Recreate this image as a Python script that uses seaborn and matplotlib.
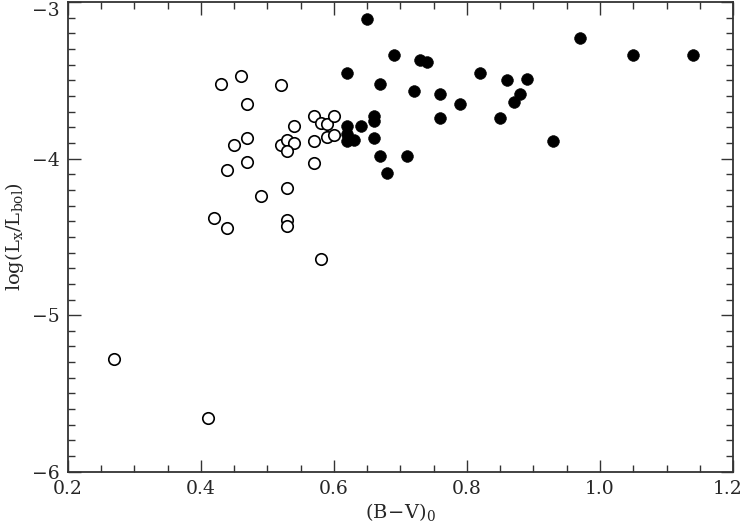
import pandas as pd
import matplotlib
matplotlib.use('Agg')
import matplotlib.pyplot as plt
import matplotlib.transforms as mtrans
import seaborn as sns
from matplotlib.ticker import MultipleLocator

# open circles
open_bv = [0.27, 0.41, 0.43, 0.46, 0.52, 0.47, 0.54, 0.57, 0.58, 0.59,
           0.60, 0.59, 0.60, 0.45, 0.47, 0.52, 0.53, 0.54, 0.53, 0.57,
           0.47, 0.44, 0.57, 0.53, 0.49, 0.42, 0.44, 0.53, 0.53, 0.58]
open_lx = [-5.28, -5.66, -3.52, -3.47, -3.53, -3.65, -3.79, -3.73, -3.77, -3.78,
           -3.73, -3.86, -3.85, -3.91, -3.87, -3.91, -3.88, -3.90, -3.95, -3.89,
           -4.02, -4.07, -4.03, -4.19, -4.24, -4.38, -4.44, -4.39, -4.43, -4.64]

# filled circles
fill_bv = [0.65, 0.69, 0.73, 0.74, 0.62, 0.82, 0.67, 0.86, 0.89, 0.72,
           0.76, 0.88, 0.79, 0.87, 0.66, 0.66, 0.76, 0.85, 0.62, 0.64,
           0.62, 0.62, 0.63, 0.66, 0.67, 0.71, 0.68, 0.93, 0.97, 1.05, 1.14]
fill_lx = [-3.11, -3.34, -3.37, -3.38, -3.45, -3.45, -3.52, -3.50, -3.49, -3.57,
           -3.59, -3.59, -3.65, -3.64, -3.73, -3.76, -3.74, -3.74, -3.79, -3.79,
           -3.84, -3.89, -3.88, -3.87, -3.98, -3.98, -4.09, -3.89, -3.23, -3.34, -3.34]

df_open = pd.DataFrame({'bv': open_bv, 'lx': open_lx})
df_fill = pd.DataFrame({'bv': fill_bv, 'lx': fill_lx})

sns.set_style('ticks')
plt.rcParams['font.family'] = ['DejaVu Serif']
plt.rcParams['mathtext.fontset'] = 'dejavuserif'

fig, ax = plt.subplots(figsize=(7.45, 5.30), dpi=100)
fig.subplots_adjust(left=0.091, right=0.984, bottom=0.110, top=0.996)

sns.scatterplot(data=df_open, x='bv', y='lx', ax=ax, s=68, marker='o',
                facecolor='white', edgecolor='black', linewidth=1.2)
sns.scatterplot(data=df_fill, x='bv', y='lx', ax=ax, s=72, marker='o',
                color='black', edgecolor='black', linewidth=0.4, zorder=3)

ax.set_xlim(0.2, 1.2)
ax.set_ylim(-6, -3)
ax.xaxis.set_minor_locator(MultipleLocator(0.05))
ax.yaxis.set_minor_locator(MultipleLocator(0.1))
ax.set_xticks([0.2, 0.4, 0.6, 0.8, 1.0, 1.2])
ax.set_xticklabels(['0.2', '0.4', '0.6', '0.8', '1.0', '1.2'])
ax.set_yticks([-6, -5, -4, -3])
ax.set_yticklabels(['\u22126', '\u22125', '\u22124', '\u22123'])

ax.tick_params(which='both', direction='in', top=True, right=True,
               labelsize=13.5, color='#333333')
ax.tick_params(which='major', length=9, width=1.0, pad=6)
ax.tick_params(which='minor', length=5, width=1.0)
for sp in ax.spines.values():
    sp.set_linewidth(1.3)
    sp.set_color('#333333')

# keep the edge tick labels inside the figure
ax.get_yticklabels()[-1].set_va('top')
last = ax.get_xticklabels()[-1]
last.set_transform(last.get_transform() +
                   mtrans.ScaledTranslation(-4 / 72, 0, fig.dpi_scale_trans))

ax.set_xlabel(r'$\rm (B\!-\!V)_0$', fontsize=14, labelpad=2)
ax.set_ylabel(r'$\rm log(L_x/L_{bol})$', fontsize=14, labelpad=4)

fig.savefig('out.png', dpi=100)
